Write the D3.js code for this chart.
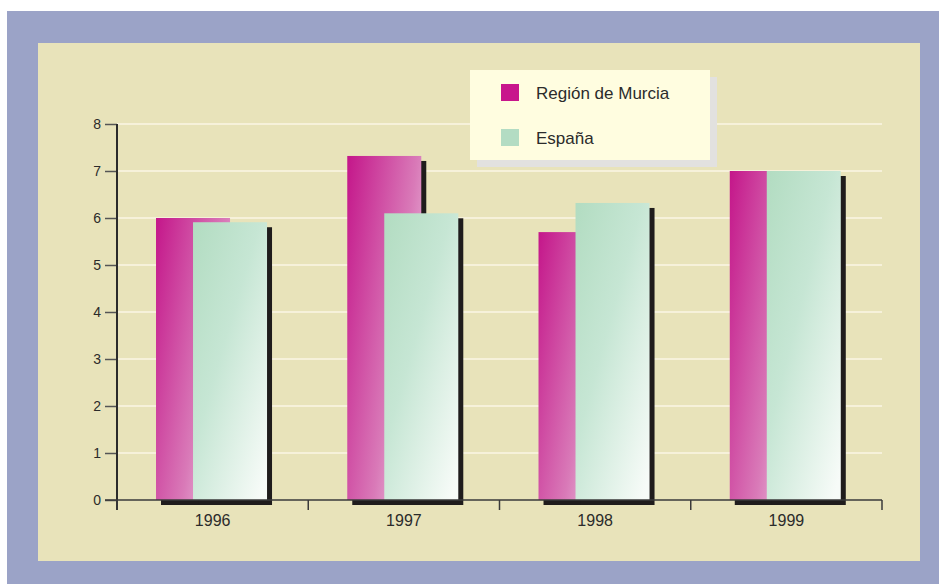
<!DOCTYPE html>
<html>
<head>
<meta charset="utf-8">
<script src="https://cdn.jsdelivr.net/npm/d3@7"></script>
<style>
  body { margin: 0; background: #fff; }
  text { font-family: "Liberation Sans", Arial, sans-serif; fill: #2b2b2b; }
</style>
</head>
<body>
<script>
// data
const years = ['1996', '1997', '1998', '1999']
const murcia = [6.0, 7.32, 5.7, 7.0]
const espana = [5.91, 6.1, 6.32, 7.0]
const seriesNames = ['Región de Murcia', 'España']
const yTicks = [0, 1, 2, 3, 4, 5, 6, 7, 8]

const m = { width: 939, height: 584, left: 117, right: 882, top: 124, bottom: 500 }

const svg = d3.select('body').append('svg')
    .attr('width', m.width)
    .attr('height', m.height)

// gradients for the bars
const defs = svg.append('defs')
const gM = defs.append('linearGradient').attr('id', 'gm')
    .attr('x1', '0').attr('y1', '0').attr('x2', '1').attr('y2', '0.6')
gM.append('stop').attr('offset', '0%').attr('stop-color', '#c4168a')
gM.append('stop').attr('offset', '70%').attr('stop-color', '#d97ab8')
gM.append('stop').attr('offset', '100%').attr('stop-color', '#e8b4d8')

const gE = defs.append('linearGradient').attr('id', 'ge')
    .attr('x1', '0').attr('y1', '0').attr('x2', '0.9').attr('y2', '1')
gE.append('stop').attr('offset', '0%').attr('stop-color', '#b2dcc1')
gE.append('stop').attr('offset', '45%').attr('stop-color', '#c6e6d4')
gE.append('stop').attr('offset', '100%').attr('stop-color', '#f7fbf8')

// frame
svg.append('rect').attr('x', 7).attr('y', 11).attr('width', 932).attr('height', 573)
    .attr('fill', '#9ba3c7')
svg.append('rect').attr('x', 38).attr('y', 43).attr('width', 882).attr('height', 518)
    .attr('fill', '#e8e3ba')

// scales
const x = d3.scaleBand().domain(years).range([m.left, m.right])
const y = d3.scaleLinear().domain([0, 8]).range([m.bottom, m.top])

const bw = x.bandwidth()
const barW = bw * 0.387
const offM = bw * 0.204
const offE = offM + barW / 2
const sh = 5

// gridlines
svg.append('g').selectAll('line')
    .data(yTicks.filter(d => d > 0))
    .join('line')
    .attr('x1', m.left).attr('x2', m.right)
    .attr('y1', d => y(d)).attr('y2', d => y(d))
    .attr('stroke', '#fbf6e4').attr('stroke-width', 1.5)

// bars with shadows
const series = [
    { vals: murcia, off: offM, fill: 'url(#gm)' },
    { vals: espana, off: offE, fill: 'url(#ge)' }
]
series.forEach(s => {
    const g = svg.append('g')
    g.selectAll('rect.shadow')
        .data(years)
        .join('rect')
        .attr('class', 'shadow')
        .attr('x', d => x(d) + s.off + sh)
        .attr('y', (d, i) => y(s.vals[i]) + sh)
        .attr('width', barW)
        .attr('height', (d, i) => y(0) - y(s.vals[i]))
        .attr('fill', '#1f1c1c')
    g.selectAll('rect.bar')
        .data(years)
        .join('rect')
        .attr('class', 'bar')
        .attr('x', d => x(d) + s.off)
        .attr('y', (d, i) => y(s.vals[i]))
        .attr('width', barW)
        .attr('height', (d, i) => y(0) - y(s.vals[i]))
        .attr('fill', s.fill)
})

// y axis
const yAxis = d3.axisLeft(y).tickValues(yTicks).tickSize(12).tickSizeOuter(0)
const ya = svg.append('g')
    .attr('transform', `translate(${m.left},0)`)
    .call(yAxis)
ya.select('.domain').remove()
ya.selectAll('line').attr('stroke', '#555').attr('stroke-width', 1.5)
ya.selectAll('text').attr('font-size', 14).attr('x', -16).style('fill', '#2b2b2b')
svg.append('line')
    .attr('x1', m.left).attr('x2', m.left)
    .attr('y1', y(8)).attr('y2', m.bottom + 10)
    .attr('stroke', '#2b2b2b').attr('stroke-width', 2)

// x axis
svg.append('line')
    .attr('x1', m.left - 12).attr('x2', m.right)
    .attr('y1', m.bottom).attr('y2', m.bottom)
    .attr('stroke', '#3a3a3a').attr('stroke-width', 1.5)
svg.append('g').selectAll('line')
    .data(years.map(d => x(d)).concat([m.right]))
    .join('line')
    .attr('x1', d => d).attr('x2', d => d)
    .attr('y1', m.bottom).attr('y2', m.bottom + 10)
    .attr('stroke', '#3a3a3a').attr('stroke-width', 1.5)
const xAxis = d3.axisBottom(x).tickSize(0).tickPadding(15)
const xa = svg.append('g')
    .attr('transform', `translate(0,${m.bottom})`)
    .call(xAxis)
xa.select('.domain').remove()
xa.selectAll('text').attr('font-size', 16).style('fill', '#2b2b2b')

// legend
const lg = svg.append('g').attr('transform', 'translate(470,70)')
lg.append('rect').attr('x', 7).attr('y', 7).attr('width', 240).attr('height', 90)
    .attr('fill', '#e2e1df')
lg.append('rect').attr('width', 240).attr('height', 90).attr('fill', '#fffde0')
const legendFills = ['#c8168c', '#b3dcc3']
seriesNames.forEach((name, i) => {
    lg.append('rect').attr('x', 31).attr('y', 14 + i * 45)
        .attr('width', 18).attr('height', 17).attr('fill', legendFills[i])
    lg.append('text').attr('x', 66).attr('y', 29 + i * 45)
        .attr('font-size', 17).text(name)
})
</script>
</body>
</html>
